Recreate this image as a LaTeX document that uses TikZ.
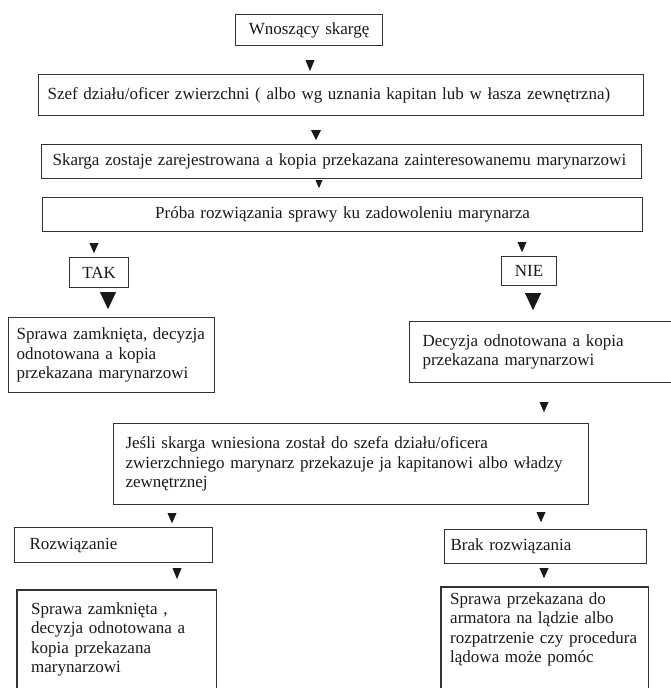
\documentclass[tikz,border=0pt]{standalone}
\usepackage{fontspec}
\setmainfont{Liberation Serif}
\usetikzlibrary{shapes.geometric}

\begin{document}
\begin{tikzpicture}[x=1pt, y=-1pt,
  box/.style={draw=black!80, line width=1.1pt, anchor=north west, align=left,
    inner ysep=2pt, font=\fontsize{17pt}{19.5pt}\selectfont, text=black!90},
  cbox/.style={box, align=center},
  openbox/.style={anchor=north west, align=left, font=\fontsize{17pt}{19.5pt}\selectfont, text=black!90},
  frame/.style={draw=black!80, line width=1.1pt},
  tri/.style={isosceles triangle, isosceles triangle stretches, shape border rotate=-90,
    fill=black!90, inner sep=0pt, minimum width=9pt, minimum height=10pt, anchor=north},
  bigtri/.style={tri, minimum width=16pt, minimum height=17pt}
]
\clip (0,0) rectangle (671,688);

%% Main column
\node[cbox, inner xsep=4pt, text width=139pt, minimum height=31pt] (wnoszacy) at (235,14) {Wnoszący skargę};
\node[tri, minimum height=11pt] (t1) at (310,60) {};
\node[box, inner xsep=9pt, text width=587pt, minimum height=41pt] (szef) at (38,74)
  {Szef działu/oficer zwierzchni ( albo wg uznania kapitan lub w łasza zewnętrzna)};
\node[tri, minimum width=10pt] (t2) at (316,130) {};
\node[box, inner xsep=11pt, text width=578pt, minimum height=34pt] (rejestr) at (41,144)
  {Skarga zostaje zarejestrowana a kopia przekazana zainteresowanemu marynarzowi};
\node[tri, minimum width=7pt, minimum height=8pt] (t3) at (319,180) {};
\node[cbox, inner xsep=6pt, text width=588pt, minimum height=34pt] (proba) at (42,197)
  {Próba rozwiązania sprawy ku zadowoleniu marynarza};

%% TAK / NIE
\node[tri] (t4) at (94,243) {};
\node[cbox, inner xsep=4pt, text width=51pt, minimum height=30pt] (tak) at (69,257) {TAK};
\node[bigtri] (t5) at (108,292) {};
\node[box, inner xsep=8pt, text width=190pt, minimum height=75pt] (takwynik) at (8,317)
  {Sprawa zamknięta, decyzja\\odnotowana a kopia\\przekazana marynarzowi};

\node[tri] (t6) at (522,242) {};
\node[cbox, inner xsep=4pt, text width=47pt, minimum height=29pt] (nie) at (501,256) {NIE};
\node[bigtri] (t7) at (533,293) {};
\node[box, inner xsep=13pt, text width=240pt, minimum height=61pt] (niewynik) at (409,321)
  {Decyzja odnotowana a kopia\\przekazana marynarzowi};
\node[tri] (t8) at (544,402) {};

%% Dalsza procedura
\node[box, inner xsep=12pt, text width=451pt, minimum height=81pt] (jesli) at (113,423)
  {Jeśli skarga wniesiona został do szefa działu/oficera\\zwierzchniego marynarz przekazuje ja kapitanowi albo władzy\\zewnętrznej};
\node[tri] (t9) at (172,513) {};
\node[tri] (t10) at (541,512) {};
\node[box, inner xsep=15pt, text width=168pt, minimum height=35pt] (rozw) at (14,527) {Rozwiązanie};
\node[box, inner xsep=6pt, text width=190pt, minimum height=34pt] (brak) at (444,529) {Brak rozwiązania};
\node[tri, minimum height=11pt] (t11) at (177,568) {};
\node[tri] (t12) at (544,568) {};

%% Boxes cut by the lower edge
\node[openbox, inner xsep=14pt, inner ysep=12pt, text width=171pt] (zamk) at (17,590)
  {Sprawa zamknięta ,\\decyzja odnotowana a\\kopia przekazana\\marynarzowi};
\draw[frame] (zamk.north west) rectangle ([yshift=-120pt]zamk.north east);
\node[openbox, inner xsep=9pt, inner ysep=5pt, text width=189pt] (przek) at (441,587)
  {Sprawa przekazana do\\armatora na lądzie albo\\rozpatrzenie czy procedura\\lądowa może pomóc};
\draw[frame] (przek.north west) rectangle ([yshift=-120pt]przek.north east);
\end{tikzpicture}
\end{document}
